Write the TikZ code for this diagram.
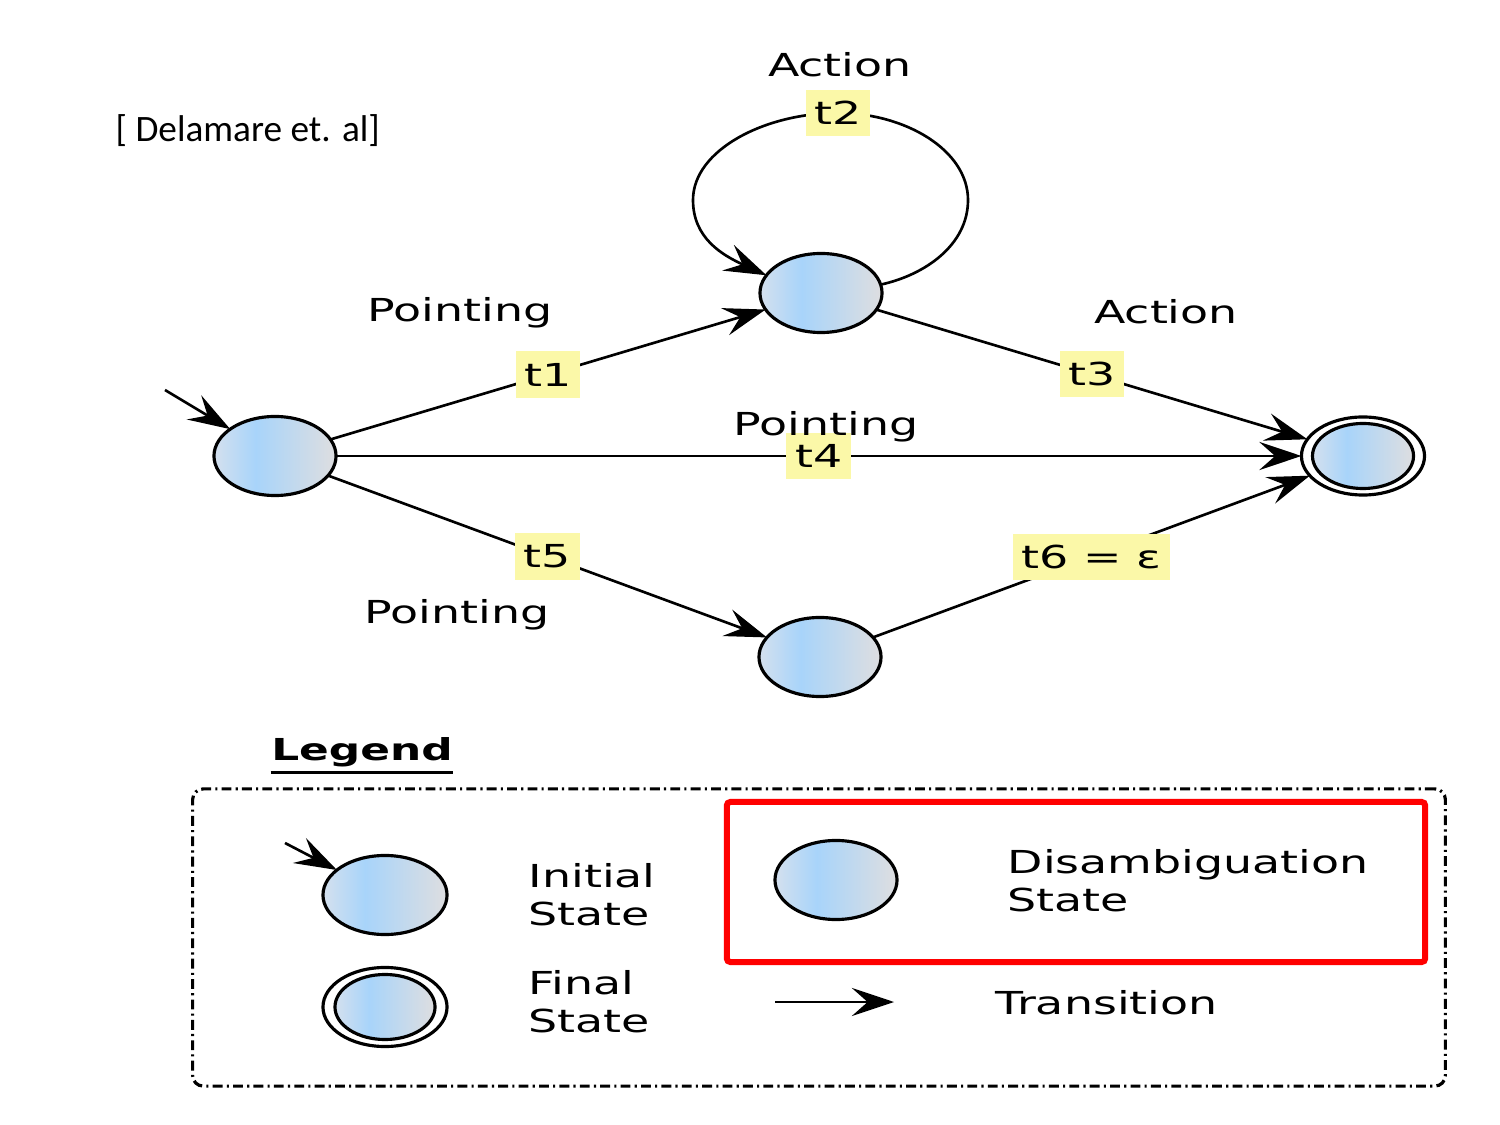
\documentclass[tikz,border=0pt]{standalone}
\usepackage{fontspec}
\setmainfont{DejaVu Sans}
\newfontfamily\lblfont[FakeStretch=1.45]{DejaVu Sans}
\newfontfamily\citefont{Carlito}
\usetikzlibrary{arrows.meta,shapes.geometric}
\definecolor{sA}{RGB}{212,224,238}
\definecolor{sB}{RGB}{168,212,250}
\definecolor{sC}{RGB}{222,222,224}
\definecolor{labY}{RGB}{251,248,168}
\pgfdeclarehorizontalshading{stateshade}{100bp}{color(0bp)=(sA); color(25bp)=(sA); color(42bp)=(sB); color(75bp)=(sC); color(100bp)=(sC)}
\tikzset{
  stnode/.style={ellipse, draw, line width=0.9pt, inner sep=0pt, outer sep=0pt,
    minimum width=1.22cm, minimum height=0.79cm, shading=stateshade},
  finalouter/.style={ellipse, draw, line width=0.9pt, fill=white, inner sep=0pt, outer sep=0pt,
    minimum width=1.23cm, minimum height=0.78cm},
  finalinner/.style={stnode, minimum width=1.01cm, minimum height=0.65cm},
  tr/.style={line width=0.75pt, -{Stealth[length=12pt,width=8pt,inset=4.5pt]}},
  lab/.style={fill=labY, font=\lblfont\fontsize{9}{11}\selectfont, inner xsep=2.5pt,
    inner ysep=0pt, minimum height=0.46cm},
  txt/.style={font=\lblfont\fontsize{9}{10.8}\selectfont, inner sep=0pt},
}
\begin{document}
\begin{tikzpicture}[x=0.01cm,y=-0.01cm]
\useasboundingbox (0,0) rectangle (1500,1125);
\node[font=\citefont\fontsize{10.6}{13}\selectfont, anchor=west, inner sep=0pt] (cite) at (115,131) {[ Delamare et. al]};

% states
\node[stnode] (q0) at (275,456) {};
\node[stnode] (q1) at (821,293) {};
\node[stnode] (q2) at (820,657) {};
\node[finalouter] (q3) at (1363,456) {};
\node[finalinner] (q3i) at (1363,456) {};

% transitions
\coordinate (init) at (165,390);
\draw[tr] (init) -- (q0);
\draw[tr] (q0) -- node[lab] (t1) {t1} (q1);
\draw[tr] (q1) -- node[lab] (t3) {t3} (q3);
\draw[tr] (q0) -- node[lab] (t4) {t4} (q3);
\draw[tr] (q0) -- node[lab] (t5) {t5} (q2);
\draw[tr] (q2) -- node[lab] (t6) {t6 = ε} (q3);

\coordinate (lr) at (968,200);
\coordinate (lt) at (838,113);
\coordinate (ll) at (693,200);
\draw[tr] (q1.8) .. controls (925,275) and (968,245) .. (lr)
  .. controls (968,150) and (905,113) .. (lt)
  .. controls (765,113) and (693,150) .. (ll)
  .. controls (693,238) and (722,255) .. (q1.162);
\node[lab] (t2) at (lt) {t2};

% texts
\node[txt] (a1) at (840,65) {Action};
\node[txt] (p1) at (460,313) {Pointing};
\node[txt] (a2) at (1166,312) {Action};
\node[txt] (p2) at (826,427) {Pointing};
\node[txt] (p3) at (457,615) {Pointing};

% legend
\node[font=\lblfont\bfseries\fontsize{8.6}{10}\selectfont, inner sep=0pt] (leg) at (362,752) {Legend};
\draw[line width=0.9pt] ([yshift=-1.5pt]leg.south west) -- ([yshift=-1.5pt]leg.south east);

\node[draw, line width=0.9pt, rounded corners=3pt, dash pattern=on 2.8pt off 1.2pt on 0.6pt off 1.2pt,
  minimum width=12.52cm, minimum height=2.97cm, inner sep=0pt] (legbox) at (819,937.5) {};

\node[stnode, minimum width=1.24cm, minimum height=0.79cm] (li) at (385,895) {};
\coordinate (linit) at (285,843);
\draw[tr] (linit) -- (li);
\node[txt, anchor=west, align=left] (lit) at (528,895) {Initial\\State};

\node[finalouter, minimum width=1.24cm, minimum height=0.79cm] (lf) at (385,1007) {};
\node[finalinner, minimum width=1.0cm, minimum height=0.65cm] (lfi) at (385,1007) {};
\node[txt, anchor=west, align=left] (lft) at (528,1002) {Final\\State};

\node[draw=red, line width=1.7pt, rounded corners=1pt, minimum width=6.98cm, minimum height=1.60cm,
  inner sep=0pt] (redbox) at (1076,882) {};
\node[stnode] (ld) at (836,880) {};
\node[txt, anchor=west, align=left] (ldt) at (1007,881) {Disambiguation\\State};

\coordinate (ta) at (775,1002);
\coordinate (tb) at (894,1002);
\draw[tr] (ta) -- (tb);
\node[txt, anchor=west] (ltt) at (995,1003) {Transition};
\end{tikzpicture}
\end{document}
